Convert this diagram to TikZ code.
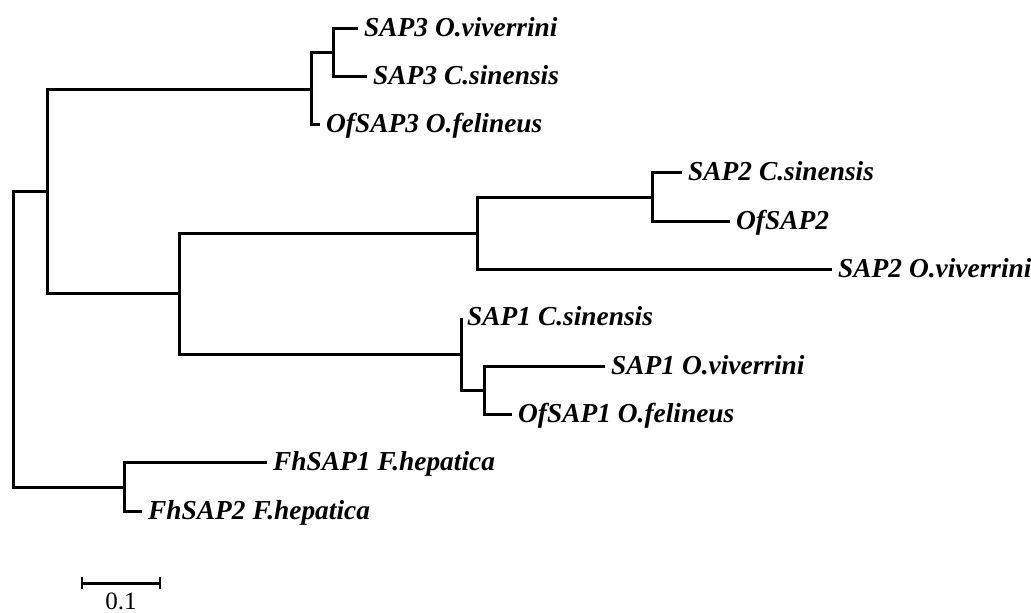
\documentclass[tikz,border=0pt]{standalone}
\usepackage{fontspec}
\setmainfont{Liberation Serif}
\begin{document}
\begin{tikzpicture}[x=1pt,y=-1pt,
  branch/.style={line width=3pt, line join=miter},
  taxon/.style={anchor=base west, inner sep=0pt, xshift=6pt, yshift=-8pt,
    font=\fontsize{27.4}{30}\selectfont\bfseries\itshape},
  scalelab/.style={anchor=base, inner sep=0pt,
    font=\fontsize{25}{27}\selectfont}]
\useasboundingbox (0,0) rectangle (1031,613);

% internal nodes
\coordinate (root) at (13,339);
\coordinate (nA)   at (47,191);
\coordinate (nC3)  at (311,89);
\coordinate (nC3a) at (333,52.3);
\coordinate (nB)   at (179,293.5);
\coordinate (nS2)  at (477,233);
\coordinate (nS2a) at (652,197);
\coordinate (nS1)  at (461,354);
\coordinate (nS1a) at (484,390);
\coordinate (nF)   at (124,487);

% leaf tips
\coordinate (t0)  at (358,28);
\coordinate (t1)  at (367,76.3);
\coordinate (t2)  at (320,124.6);
\coordinate (t3)  at (682,172.9);
\coordinate (t4)  at (730,221.2);
\coordinate (t5)  at (832,269.5);
\coordinate (t6)  at (461,317.8);
\coordinate (t7)  at (605,366.1);
\coordinate (t8)  at (512,414.4);
\coordinate (t9)  at (267,462.7);
\coordinate (t10) at (142,511);

% branches
\draw[branch] (root) |- (nA);
\draw[branch] (root) |- (nF);
\draw[branch] (nA) |- (nC3);
\draw[branch] (nA) |- (nB);
\draw[branch] (nC3) |- (nC3a);
\draw[branch] (nC3) |- (t2);
\draw[branch] (nC3a) |- (t0);
\draw[branch] (nC3a) |- (t1);
\draw[branch] (nB) |- (nS2);
\draw[branch] (nB) |- (nS1);
\draw[branch] (nS2) |- (nS2a);
\draw[branch] (nS2) |- (t5);
\draw[branch] (nS2a) |- (t3);
\draw[branch] (nS2a) |- (t4);
\draw[branch] (nS1) |- (t6);
\draw[branch] (nS1) |- (nS1a);
\draw[branch] (nS1a) |- (t7);
\draw[branch] (nS1a) |- (t8);
\draw[branch] (nF) |- (t9);
\draw[branch] (nF) |- (t10);

% taxon labels
\node[taxon] (L0)  at (t0)  {SAP3 O.viverrini};
\node[taxon] (L1)  at (t1)  {SAP3 C.sinensis};
\node[taxon] (L2)  at (t2)  {OfSAP3 O.felineus};
\node[taxon] (L3)  at (t3)  {SAP2 C.sinensis};
\node[taxon] (L4)  at (t4)  {OfSAP2};
\node[taxon] (L5)  at (t5)  {SAP2 O.viverrini};
\node[taxon] (L6)  at (t6)  {SAP1 C.sinensis};
\node[taxon] (L7)  at (t7)  {SAP1 O.viverrini};
\node[taxon] (L8)  at (t8)  {OfSAP1 O.felineus};
\node[taxon] (L9)  at (t9)  {FhSAP1 F.hepatica};
\node[taxon] (L10) at (t10) {FhSAP2 F.hepatica};

% scale bar
\coordinate (sbL) at (82,583);
\coordinate (sbR) at (160,583);
\draw[branch] (sbL) -- (sbR);
\draw[line width=2.6pt] ([yshift=6pt]sbL) -- ([yshift=-6pt]sbL);
\draw[line width=2.6pt] ([yshift=6pt]sbR) -- ([yshift=-6pt]sbR);
\node[scalelab] (sbLab) at (121,609) {0.1};
\end{tikzpicture}
\end{document}
